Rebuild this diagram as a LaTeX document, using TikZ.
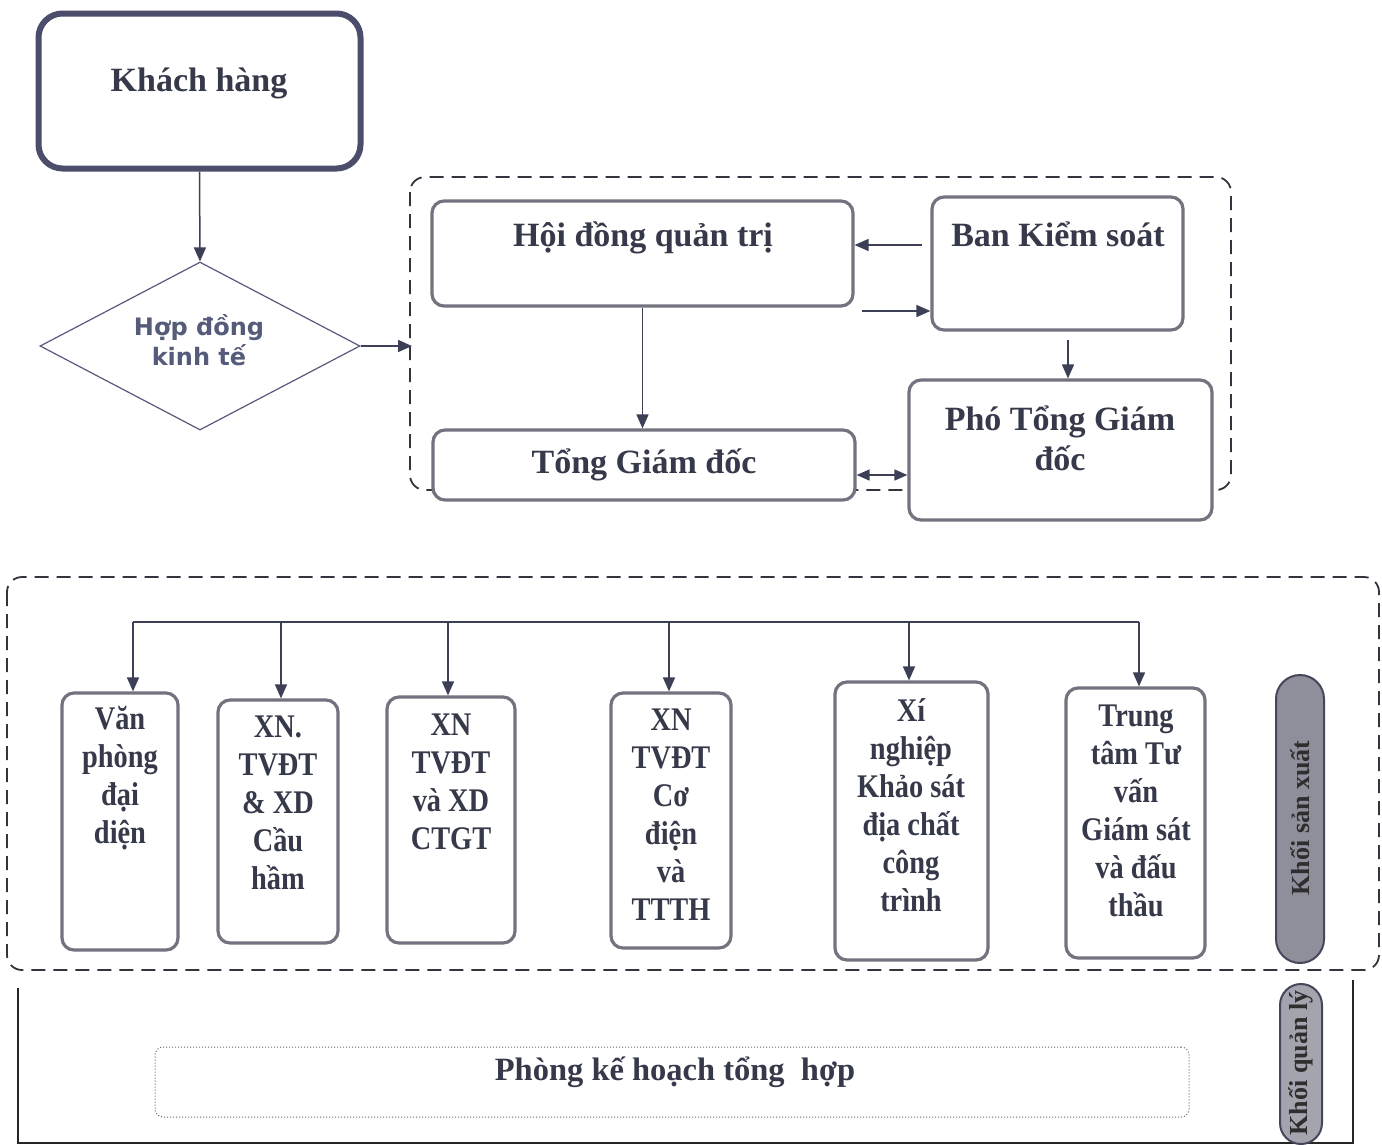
\documentclass[tikz,border=0pt]{standalone}
\usepackage{fontspec}
\setmainfont{Liberation Serif}
\newfontfamily\diafont{DejaVu Sans}
\newfontfamily\narrowserif[FakeStretch=0.86]{Liberation Serif}
\usetikzlibrary{arrows.meta,shapes.geometric}
\definecolor{ink}{HTML}{363949}
\definecolor{boxline}{HTML}{737380}
\definecolor{arr}{HTML}{3C3F55}
\definecolor{dash}{HTML}{34343F}
\definecolor{pillfill}{HTML}{8E8F9A}
\definecolor{pillfilltwo}{HTML}{A3A4AD}
\definecolor{pillline}{HTML}{45465A}
\definecolor{diatext}{HTML}{555B7A}
\begin{document}
\begin{tikzpicture}[x=1pt,y=-1pt,
  box/.style={draw=boxline, line width=3.2pt, rounded corners=12pt, fill=white, inner sep=0pt, rectangle},
  bigtxt/.style={text=ink, font=\bfseries\fontsize{34}{40}\selectfont, align=center, inner sep=0pt},
  smalltxt/.style={text=ink, font=\narrowserif\bfseries\fontsize{33}{38}\selectfont, align=center, inner sep=0pt},
  arrow/.style={draw=arr, line width=1.5pt, -{Triangle[length=14pt,width=12pt]}},
  arrowboth/.style={draw=arr, line width=1.5pt, {Triangle[length=13pt,width=11pt]}-{Triangle[length=13pt,width=11pt]}},
  conn/.style={draw=arr, line width=1.6pt},
  dashbox/.style={draw=dash, line width=1.8pt, dash pattern=on 14pt off 8pt, rounded corners=15pt},
  pill/.style={draw=pillline, line width=2pt, fill=pillfill, rectangle, inner sep=0pt},
  pilltxt/.style={text=black!82, font=\bfseries\fontsize{26}{30}\selectfont, rotate=90, inner sep=0pt}
]
\useasboundingbox (0,0) rectangle (1382,1144);
\fill[white] (0,0) rectangle (1382,1144);

% ---- top dashed group
\draw[dashbox] (410,177) rectangle (1231,490);

% ---- Khach hang
\node[box, draw=black!70!blue!40!gray, line width=6pt, rounded corners=24pt, minimum width=322pt, minimum height=155pt] (kh) at (199.5,91) {};
\node[bigtxt] (khtxt) at (199,83) {Khách hàng};

% ---- diamond
\node[diamond, draw=black!55!blue!30!gray, line width=1.2pt, minimum width=320pt, minimum height=168pt, inner sep=0pt, fill=white] (hop) at (200,346) {};
\node[text=diatext, font=\diafont\bfseries\fontsize{24}{30}\selectfont, align=center, inner sep=0pt] (hoptxt) at (199,340) {Hợp đồng\\kinh tế};

% ---- management boxes
\node[box, minimum width=421pt, minimum height=105pt] (hd) at (642.5,253.5) {};
\node[bigtxt] (hdtxt) at (643,238) {Hội đồng quản trị};
\node[box, minimum width=251pt, minimum height=133pt] (bks) at (1057.5,263.5) {};
\node[bigtxt] (bkstxt) at (1058,234) {Ban Kiểm soát};
\node[box, minimum width=422pt, minimum height=70pt] (tgd) at (644,465) {};
\node[bigtxt] (tgdtxt) at (644,465) {Tổng Giám đốc};
\node[box, minimum width=303pt, minimum height=140pt] (ptgd) at (1060.5,450) {};
\node[bigtxt] (ptgdtxt) at (1060,438) {Phó Tổng Giám\\đốc};

% ---- top connectors
\draw[arrow] (kh.south) -- (hop.north);
\coordinate (dl) at (412,346);
\draw[arrow] (hop.east) -- (dl);
\draw[arrow] (hd.south) -- (hd.south |- tgd.north);
\coordinate (a1) at (922,245);
\draw[arrow] (a1) -- (a1 -| hd.east);
\coordinate (a2) at (862,311);
\draw[arrow] (a2) -- (a2 -| bks.west);
\coordinate (a3) at (1068,340);
\draw[arrow] (a3) -- (a3 |- ptgd.north);
\coordinate (y475) at (0,475);
\draw[arrowboth] (tgd.east |- y475) -- (ptgd.west |- y475);

% ---- bottom dashed group
\draw[dashbox] (7,577) rectangle (1379,970);

\node[box, minimum width=116pt, minimum height=257pt] (b1) at (120,821.5) {};
\node[smalltxt] (t1) at (120,778) {Văn\\phòng\\đại\\diện};
\node[box, minimum width=120pt, minimum height=243pt] (b2) at (278,821.5) {};
\node[smalltxt] (t2) at (278,803) {XN.\\TVĐT\\\& XD\\Cầu\\hầm};
\node[box, minimum width=128pt, minimum height=246pt] (b3) at (451,820) {};
\node[smalltxt] (t3) at (451,782) {XN\\TVĐT\\và XD\\CTGT};
\node[box, minimum width=120pt, minimum height=255pt] (b4) at (671,820.5) {};
\node[smalltxt] (t4) at (671,815) {XN\\TVĐT\\Cơ\\điện\\và\\TTTH};
\node[box, minimum width=153pt, minimum height=278pt] (b5) at (911.5,821) {};
\node[smalltxt] (t5) at (911,805) {Xí\\nghiệp\\Khảo sát\\địa chất\\công\\trình};
\node[box, minimum width=139pt, minimum height=270pt] (b6) at (1135.5,823) {};
\node[smalltxt] (t6) at (1136,811) {Trung\\tâm Tư\\vấn\\Giám sát\\và đấu\\thầu};

% bus
\coordinate (d1) at (133,622);
\coordinate (d2) at (281,622);
\coordinate (d3) at (448,622);
\coordinate (d4) at (669,622);
\coordinate (d5) at (909,622);
\coordinate (d6) at (1139,622);
\draw[conn] (d1) -- (d6);
\draw[arrow] (d1) -- (d1 |- b1.north);
\draw[arrow] (d2) -- (d2 |- b2.north);
\draw[arrow] (d3) -- (d3 |- b3.north);
\draw[arrow] (d4) -- (d4 |- b4.north);
\draw[arrow] (d5) -- (d5 |- b5.north);
\draw[arrow] (d6) -- (d6 |- b6.north);

% pills
\node[pill, minimum width=48pt, minimum height=288pt, rounded corners=24pt] (p1) at (1300,819) {};
\node[pilltxt] (p1txt) at (1300,818) {Khối sản xuất};

% ---- management block
\draw[line width=1.6pt, draw=black!85] (18,988) -- (18,1143) -- (1353,1143) -- (1353,980);
\node[pill, fill=pillfilltwo, minimum width=42pt, minimum height=160pt, rounded corners=21pt] (p2) at (1301,1064) {};
\node[pilltxt] (p2txt) at (1301,1063) {Khối quản lý};

\node[draw=black!60, line width=1pt, dotted, rounded corners=8pt, minimum width=1034pt, minimum height=70pt, inner sep=0pt] (pk) at (672,1082) {};
\node[text=ink, font=\bfseries\fontsize{32.5}{38}\selectfont, inner sep=0pt] (pktxt) at (675,1072) {Phòng kế hoạch tổng\ \ hợp};
\end{tikzpicture}
\end{document}
